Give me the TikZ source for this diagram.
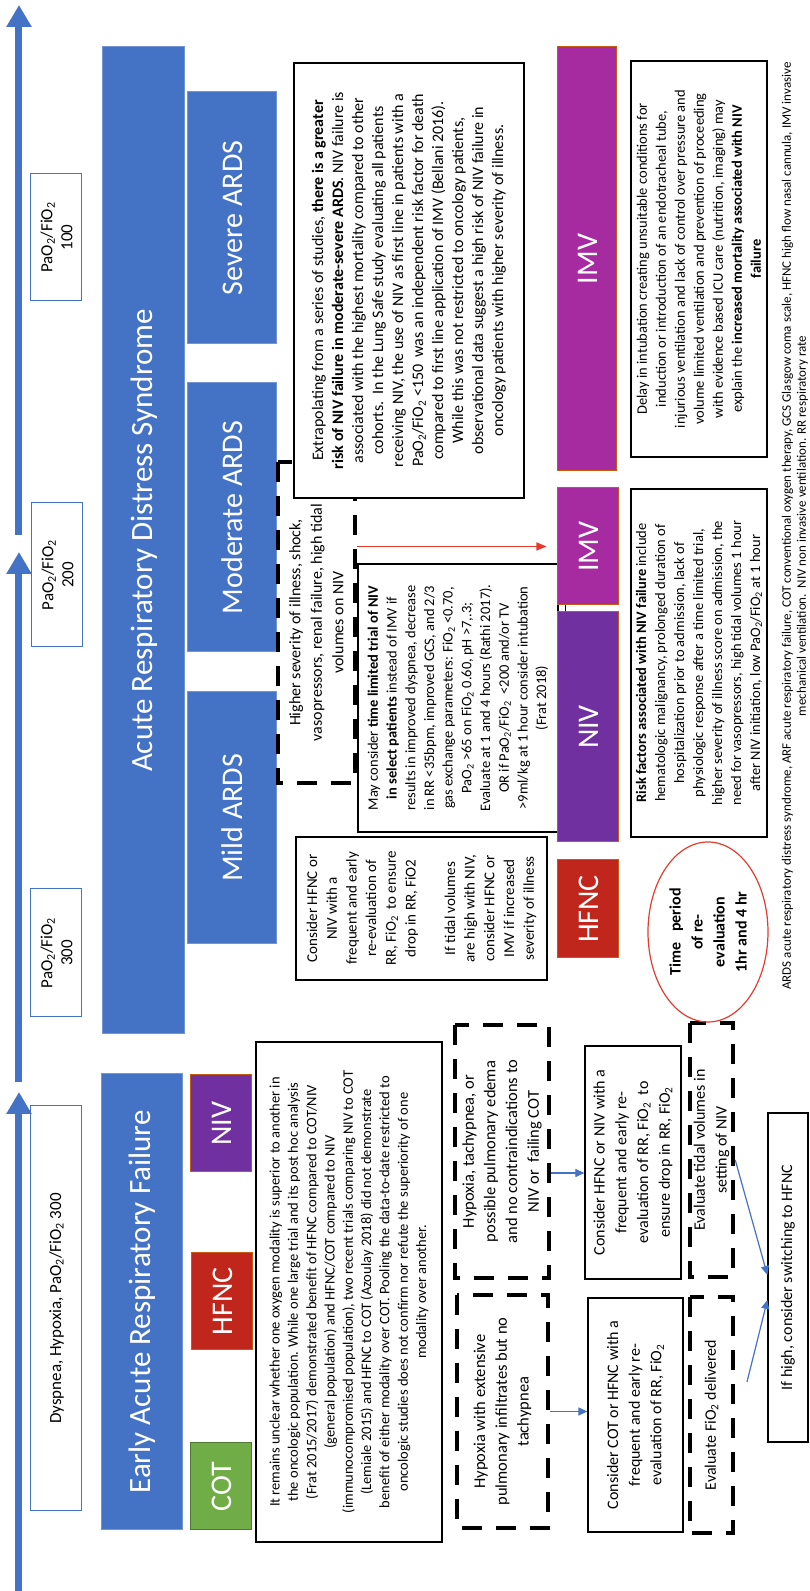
\documentclass[tikz,border=0pt]{standalone}
\usepackage{fontspec}
\setmainfont{Carlito}
\usetikzlibrary{arrows.meta, shapes.geometric}
\definecolor{ardsblue}{HTML}{4472C4}
\definecolor{cotgreen}{HTML}{70AD47}
\definecolor{hfncred}{HTML}{C0261C}
\definecolor{nivpurple}{HTML}{7030A0}
\definecolor{imvmagenta}{HTML}{A62AA0}
\definecolor{edgeorange}{HTML}{C55A11}
\definecolor{alertred}{HTML}{E53A2E}
\newcommand{\subtwo}{\textsubscript{2}}

\begin{document}
\begin{tikzpicture}[x=1pt, y=1pt, rotate=90, transform shape,
    bar/.style={fill=ardsblue, draw=ardsblue!75!white, line width=1pt, text=white, font=\fontsize{31}{36}\selectfont},
    grade/.style={bar, font=\fontsize{30}{36}\selectfont},
    mode/.style={draw=edgeorange, line width=1pt, text=white, font=\fontsize{30}{36}\selectfont},
    ratio/.style={draw=ardsblue, line width=1pt, align=center, font=\fontsize{17}{20}\selectfont},
    note/.style={draw, fill=white, line width=1.2pt, align=center, inner sep=2pt},
    dashnote/.style={draw, line width=4.5pt, dash pattern=on 20pt off 14pt, align=center},
    flow/.style={draw=ardsblue, line width=7pt, -{Triangle[length=22pt,width=24pt]}},
    link/.style={draw=ardsblue, line width=1.2pt, -{Triangle[length=9pt,width=8pt]}}]
    \useasboundingbox (0,0) rectangle (1591,809);

    % severity axis
    \coordinate (a0) at (0,790);
    \coordinate (a1) at (499,790);
    \coordinate (b0) at (509,790);
    \coordinate (b1) at (1039,790);
    \coordinate (c0) at (1056,790);
    \coordinate (c1) at (1586,790);
    \draw[flow] (a0) -- (a1);
    \draw[flow] (b0) -- (b1);
    \draw[flow] (c0) -- (c1);

    \node[ratio, minimum width=405pt, minimum height=51pt] (dyspnea) at (282.5,752.5) {Dyspnea, Hypoxia, PaO\subtwo/FiO\subtwo\ 300};
    \node[ratio, minimum width=128pt, minimum height=51pt] (pf300) at (638,752.5) {PaO\subtwo/FiO\subtwo\\300};
    \node[ratio, minimum width=144pt, minimum height=51pt] (pf200) at (1016,751.5) {PaO\subtwo/FiO\subtwo\\200};
    \node[ratio, minimum width=127pt, minimum height=51pt] (pf100) at (1353.5,752.5) {PaO\subtwo/FiO\subtwo\\100};

    % headers
    \node[bar, minimum width=456pt, minimum height=81pt] (earf) at (289,666.5) {Early Acute Respiratory Failure};
    \node[bar, minimum width=987pt, minimum height=82pt] (ards) at (1050.5,665) {Acute Respiratory Distress Syndrome};
    \node[grade, minimum width=252pt, minimum height=89pt] (mild) at (773,576.5) {Mild ARDS};
    \node[grade, minimum width=269pt, minimum height=89pt] (moderate) at (1073.5,576.5) {Moderate ARDS};
    \node[grade, minimum width=252pt, minimum height=89pt] (severe) at (1373,576.5) {Severe ARDS};

    % early ARF
    \node[mode, fill=cotgreen, draw=cotgreen!70!black, minimum width=87pt, minimum height=61pt] (cot) at (104.5,587.5) {COT};
    \node[mode, fill=hfncred, minimum width=97pt, minimum height=61pt] (hfncL) at (289.5,586.5) {HFNC};
    \node[mode, fill=nivpurple, minimum width=97pt, minimum height=61pt] (nivL) at (467.5,587.5) {NIV};
    \node[note, font=\fontsize{14.5}{18.3}\selectfont, minimum width=500pt, minimum height=186pt] (unclear) at (299,460) {It remains unclear whether one oxygen modality is superior to another in\\the oncologic population. While one large trial and its post hoc analysis\\(Frat 2015/2017) demonstrated benefit of HFNC compared to COT/NIV\\(general population) and HFNC/COT compared to NIV\\(immunocompromised population), two recent trials comparing NIV to COT\\(Lemiale 2015) and HFNC to COT (Azoulay 2018) did not demonstrate\\benefit of either modality over COT. Pooling the data-to-date restricted to\\oncologic studies does not confirm nor refute the superiority of one\\modality over another.};
    \node[dashnote, font=\fontsize{16.5}{21.7}\selectfont, minimum width=233pt, minimum height=91pt] (hypinf) at (179.5,306.5) {Hypoxia with extensive\\pulmonary infiltrates but no\\tachypnea};
    \node[dashnote, font=\fontsize{16.5}{21.7}\selectfont, minimum width=253pt, minimum height=94pt] (hyptach) at (439.5,307) {Hypoxia, tachypnea, or\\possible pulmonary edema\\and no contraindications to\\NIV or\ \ failing COT};
    \node[note, font=\fontsize{16}{21.7}\selectfont, minimum width=234pt, minimum height=95pt] (cotplan) at (176,173.5) {Consider COT or HFNC with a\\frequent and early re-\\evaluation of RR, FiO\subtwo};
    \node[note, font=\fontsize{16}{21.7}\selectfont, minimum width=233pt, minimum height=96pt] (nivplan) at (428.5,176) {Consider HFNC or NIV with a\\frequent and early re-\\evaluation of RR, FiO\subtwo\ \ to\\ensure drop in RR, FiO\subtwo};
    \node[dashnote, font=\fontsize{16}{21.7}\selectfont, minimum width=236pt, minimum height=43pt] (evalfio) at (176,97.5) {Evaluate FiO\subtwo\ delivered};
    \node[dashnote, font=\fontsize{16}{21.7}\selectfont, minimum width=254pt, minimum height=43pt] (evaltv) at (441,97.5) {Evaluate tidal volumes in\\setting of NIV};
    \node[note, font=\fontsize{16}{20}\selectfont, minimum width=329pt, minimum height=40pt] (ifhigh) at (313.5,21) {If high, consider switching to HFNC};

    \draw[link] (hypinf.south) -- (hypinf.south |- cotplan.north);
    \draw[link] ([xshift=-21.5pt]hyptach.south) -- ([xshift=-21.5pt]hyptach.south |- nivplan.north);
    \coordinate (fiotail) at (209,62);
    \draw[link] (fiotail) -- ([xshift=-22.5pt]ifhigh.north);
    \draw[link] ([xshift=-10pt]evaltv.south) -- ([xshift=2.5pt]ifhigh.north);

    % ARDS
    \node[note, font=\fontsize{15}{19.7}\selectfont, minimum width=143pt, minimum height=251pt] (mildplan) at (682.5,387.5) {Consider HFNC or\\NIV with a\\frequent and early\\re-evaluation of\\RR, FiO\subtwo\ \ to ensure\\drop in RR, FiO2\\[19.7pt]If tidal volumes\\are high with NIV,\\consider HFNC or\\IMV if increased\\severity of illness};
    \node[dashnote, font=\fontsize{16}{21.5}\selectfont, minimum width=321pt, minimum height=77pt] (severity) at (968.5,492.5) {Higher severity of illness, shock,\\vasopressors, renal failure, high tidal\\volumes on NIV};
    \node[note, font=\fontsize{14.5}{18.7}\selectfont, minimum width=268pt, minimum height=200pt] (trial) at (893,351) {May consider \textbf{time limited trial of NIV}\\\textbf{in select patients} instead of IMV if\\results in improved dyspnea, decrease\\in RR <35bpm, improved GCS, and 2/3\\gas exchange parameters: FiO\subtwo\ <0.70,\\PaO\subtwo\ >65 on FiO\subtwo\ 0.60, pH >7,.3;\\Evaluate at 1 and 4 hours (Rathi 2017).\\OR if PaO\subtwo/FiO\subtwo\ \ <200 and/or TV\\>9ml/kg at 1 hour consider intubation\\(Frat 2018)};
    \node[note, font=\fontsize{16}{20}\selectfont, minimum width=435pt, minimum height=230pt] (extrap) at (1310.5,400) {Extrapolating from a series of studies, \textbf{there is a greater}\\\textbf{risk of NIV failure in moderate-severe ARDS}. NIV failure is\\associated with the highest mortality compared to other\\cohorts.\ \ In the Lung Safe study evaluating all patients\\receiving NIV, the use of NIV as first line in patients with a\\PaO\subtwo/FiO\subtwo\ <150\ \ was an independent risk factor for death\\compared to first line application of IMV (Bellani 2016).\\While this was not restricted to oncology patients,\\observational data suggest a high risk of NIV failure in\\oncology patients with higher severity of illness.};

    \node[mode, fill=hfncred, minimum width=98pt, minimum height=61pt] (hfncR) at (682,220.5) {HFNC};
    \node[mode, fill=nivpurple, minimum width=230pt, minimum height=61pt] (nivR) at (864,220.5) {NIV};
    \node[mode, fill=imvmagenta, minimum width=117pt, minimum height=61pt] (imvS) at (1044.5,220.5) {IMV};
    \node[mode, fill=imvmagenta, minimum width=424pt, minimum height=59pt] (imvL) at (1332,221.5) {IMV};
    \draw[line width=1pt] ([yshift=22.5pt]nivR.east) -- ([yshift=22.5pt]imvS.west);
    \draw[alertred, line width=1.5pt, -{Triangle[length=10pt,width=8pt]}, shorten >=11pt] (imvS.north |- severity.south) -- (imvS.north);

    \node[ellipse, draw=alertred, line width=1.2pt, minimum width=180pt, minimum height=120pt, inner sep=0pt, align=center, font=\bfseries\fontsize{16}{22}\selectfont] (reeval) at (659,101) {Time\ \ \ period\\of re-\\evaluation\\1hr and 4 hr};
    \node[note, font=\fontsize{14.5}{19}\selectfont, minimum width=348pt, minimum height=136pt] (risk) at (928,110) {\textbf{Risk factors associated with NIV failure} include\\hematologic malignancy, prolonged duration of\\hospitalization prior to admission, lack of\\physiologic response after a time limited trial,\\higher severity of illness score on admission, the\\need for vasopressors, high tidal volumes 1 hour\\after NIV initiation, low PaO\subtwo/FiO\subtwo\ at 1 hour};
    \node[note, font=\fontsize{14.5}{19}\selectfont, minimum width=396pt, minimum height=136pt] (delay) at (1332,110) {Delay in intubation creating unsuitable conditions for\\induction or introduction of an endotracheal tube,\\injurious ventilation and lack of control over pressure and\\volume limited ventilation and prevention of proceeding\\with evidence based ICU care (nutrition, imaging) may\\explain the \textbf{increased mortality associated with NIV}\\\textbf{failure}};

    % abbreviations
    \node[align=center, font=\fontsize{13}{15}\selectfont] (abbrev) at (1065,14) {ARDS acute respiratory distress syndrome, ARF acute respiratory failure, COT conventional oxygen therapy, GCS Glasgow coma scale, HFNC high flow nasal cannula, IMV invasive\\mechanical ventilation.\ \ NIV non invasive ventilation. RR respiratory rate};
\end{tikzpicture}
\end{document}
